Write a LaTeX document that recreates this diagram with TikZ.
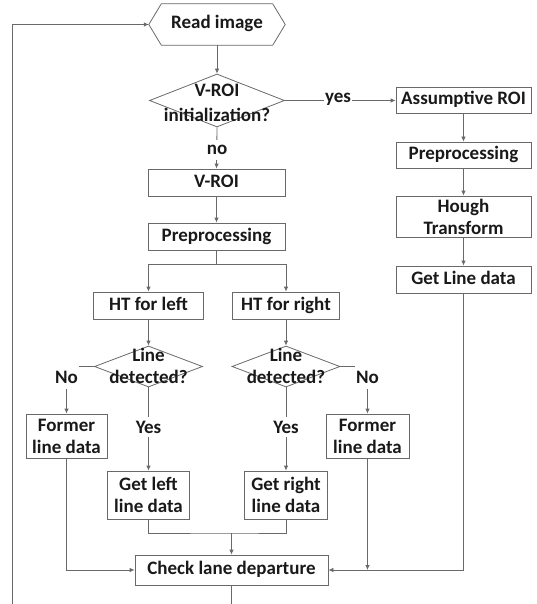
\documentclass[tikz,border=0pt]{standalone}
\usepackage{fontspec}
\setmainfont{Carlito}
\usetikzlibrary{arrows.meta,shapes.geometric}
\definecolor{lc}{RGB}{105,105,105}
\definecolor{tc}{RGB}{25,25,25}
\begin{document}
\begin{tikzpicture}[x=1pt,y=-1pt,
  every node/.style={font=\bfseries\fontsize{19}{22}\selectfont, text=tc},
  box/.style={draw=lc, line width=0.8pt, inner sep=0pt, align=center},
  single/.style={text height=13pt, text depth=4pt},
  dia/.style={draw=lc, line width=0.8pt, shape=diamond, inner sep=0pt},
  lab/.style={fill=white, inner xsep=1pt, inner ysep=0pt},
  conn/.style={draw=lc, line width=0.8pt},
  arr/.style={conn, -{Latex[length=5pt,width=4.5pt]}}
]
\useasboundingbox (0,0) rectangle (537,604);

% ---- nodes ----
\node[inner sep=0pt, minimum width=136pt, minimum height=41pt, single] (read) at (217,24.5) {Read image};
\draw[conn] (read.west) -- ([xshift=12.5pt]read.north west) -- ([xshift=-12.5pt]read.north east)
  -- (read.east) -- ([xshift=-12.5pt]read.south east) -- ([xshift=12.5pt]read.south west) -- cycle;

\node[dia, minimum width=135pt, minimum height=53pt] (init) at (217,100.5) {};
\node[align=center, font=\bfseries\fontsize{19}{25}\selectfont] (initT) at (217,103) {V-ROI\\initialization?};

\node[box, single, minimum width=135pt, minimum height=26pt] (assum) at (463.5,100.5) {Assumptive ROI};
\node[box, single, minimum width=135pt, minimum height=26pt] (prepR) at (463.5,155) {Preprocessing};
\node[box, minimum width=135pt, minimum height=41pt] (hough) at (463.5,216.5) {Hough\\Transform};
\node[box, single, minimum width=135pt, minimum height=27pt] (getline) at (463.5,279.5) {Get Line data};

\node[box, single, minimum width=137pt, minimum height=27pt] (vroi) at (216.5,182.5) {V-ROI};
\node[box, single, minimum width=137pt, minimum height=27pt] (prepL) at (216.5,236.5) {Preprocessing};

\node[box, single, minimum width=110pt, minimum height=27pt] (htl) at (148.5,305.5) {HT for left};
\node[box, single, minimum width=107pt, minimum height=27pt] (htr) at (286,305.5) {HT for right};

\node[dia, minimum width=108pt, minimum height=41pt] (dl) at (148.5,366.5) {};
\node[align=center] (dlT) at (148.5,365.5) {Line\\detected?};
\node[dia, minimum width=108pt, minimum height=41pt] (dr) at (286,366.5) {};
\node[align=center] (drT) at (286,365.5) {Line\\detected?};

\node[box, minimum width=81pt, minimum height=44pt] (fl) at (66.5,436) {Former\\line data};
\node[box, minimum width=83pt, minimum height=44pt] (fr) at (367.5,436) {Former\\line data};

\node[box, minimum width=82pt, minimum height=48pt] (gl) at (148.5,495) {Get left\\line data};
\node[box, minimum width=83pt, minimum height=48pt] (gr) at (286,495) {Get right\\line data};

\node[box, single, minimum width=193pt, minimum height=30pt] (check) at (231.5,570) {Check lane departure};

% ---- helper coordinates ----
\coordinate (split) at (216.5,264);
\coordinate (mrg) at (231.5,533);
\coordinate (bottomref) at (0,606);
\coordinate (loopb) at (12,606);
\coordinate (loopt) at (12,24.5);

% ---- connectors ----
\draw[arr] (read.south) -- (init.north);
\draw[arr] (init.east) -- (assum.west);
\draw[arr] (init.south) -- (vroi.north);
\draw[arr] (assum.south) -- (prepR.north);
\draw[arr] (prepR.south) -- (hough.north);
\draw[arr] (hough.south) -- (getline.north);
\draw[arr] (vroi.south) -- (prepL.north);
\draw[conn] (prepL.south) -- (split);
\draw[arr] (split) -| (htl.north);
\draw[arr] (split) -| (htr.north);
\draw[arr] (htl.south) -- (dl.north);
\draw[arr] (htr.south) -- (dr.north);
\draw[arr] (dl.west) -| (fl.north);
\draw[arr] (dr.east) -| (fr.north);
\draw[arr] (dl.south) -- (gl.north);
\draw[arr] (dr.south) -- (gr.north);
\draw[conn] (gl.south) |- (mrg) -| (gr.south);
\draw[arr] (mrg) -- (check.north);
\draw[arr] (fl.south) |- (check.west);
\draw[arr] (getline.south) |- (check.east);
\coordinate (frend) at (fr.south |- check.east);
\draw[arr] (fr.south) -- (frend);
\draw[conn] (check.south) -- (check.south |- bottomref);
\draw[arr] (loopb) -- (loopt) -- (read.west);

% ---- labels ----
\node[lab, minimum height=20pt] (yesT) at (338,99) {yes};
\node[lab, minimum height=20pt] (noT) at (217,150) {no};
\node[lab, minimum height=24pt, minimum width=24pt] (noL) at (66.5,377) {No};
\node[lab, minimum height=24pt, minimum width=24pt] (noR) at (367.5,377) {No};
\node[lab, minimum height=20pt] (yesL) at (148.5,427) {Yes};
\node[lab, minimum height=20pt] (yesR) at (286,427) {Yes};
\end{tikzpicture}
\end{document}
